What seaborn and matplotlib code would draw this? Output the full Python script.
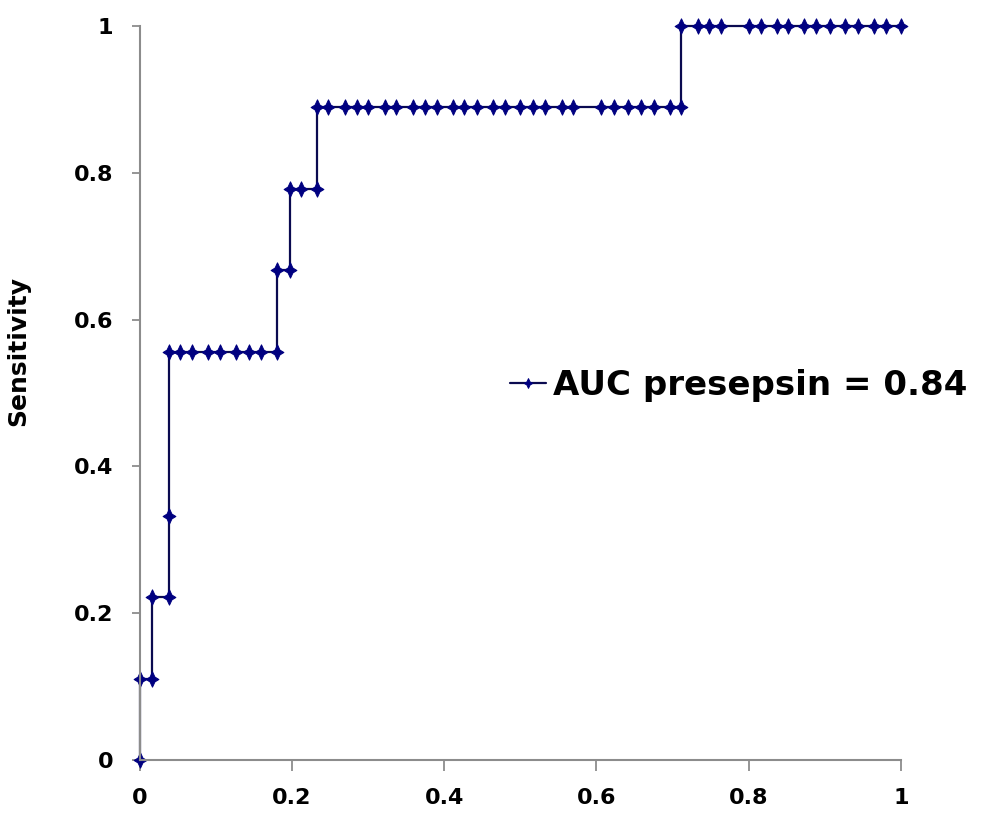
import matplotlib
matplotlib.use("Agg")
import matplotlib.pyplot as plt
import seaborn as sns
import pandas as pd
from matplotlib.path import Path

# ROC points (1 - specificity, sensitivity), in drawing order
fpr = [0.0, 0.0, 0.0167, 0.0167, 0.0385, 0.0385, 0.0385,
       0.0538, 0.069, 0.0906, 0.1063, 0.1273, 0.1435, 0.1597, 0.1807,
       0.1807, 0.1976, 0.1976, 0.2125, 0.2335,
       0.2335, 0.248, 0.2699, 0.2852, 0.3005, 0.3224, 0.3369, 0.3587, 0.3749,
       0.3901, 0.4111, 0.4265, 0.4427, 0.4637, 0.4799, 0.4996, 0.5161, 0.5324,
       0.5542, 0.5699, 0.6055, 0.6225, 0.641, 0.6585, 0.675, 0.696, 0.7115,
       0.7115, 0.734, 0.7485, 0.7635, 0.8005, 0.8165, 0.8375, 0.852, 0.8725,
       0.889, 0.9065, 0.9265, 0.943, 0.964, 0.98, 1.0]
tpr = [0.0, 0.111, 0.111, 0.222, 0.222, 0.333, 0.556,
       0.556, 0.556, 0.556, 0.556, 0.556, 0.556, 0.556, 0.556,
       0.667, 0.667, 0.778, 0.778, 0.778,
       0.889, 0.889, 0.889, 0.889, 0.889, 0.889, 0.889, 0.889, 0.889,
       0.889, 0.889, 0.889, 0.889, 0.889, 0.889, 0.889, 0.889, 0.889,
       0.889, 0.889, 0.889, 0.889, 0.889, 0.889, 0.889, 0.889, 0.889,
       1.0, 1.0, 1.0, 1.0, 1.0, 1.0, 1.0, 1.0, 1.0,
       1.0, 1.0, 1.0, 1.0, 1.0, 1.0, 1.0]
series_label = "AUC presepsin = 0.84"
x_ticks = [0, 0.2, 0.4, 0.6, 0.8, 1]
x_tick_labels = ["0", "0.2", "0.4", "0.6", "0.8", "1"]
y_ticks = [0, 0.2, 0.4, 0.6, 0.8, 1]
y_tick_labels = ["0", "0.2", "0.4", "0.6", "0.8", "1"]
y_label = "Sensitivity"

df = pd.DataFrame({"fpr": fpr, "tpr": tpr, "series": series_label})

sns.set_theme(style="white")
plt.rcParams["font.family"] = ["DejaVu Sans"]

fig = plt.figure(figsize=(10.08, 8.19), dpi=100)
ax = fig.add_axes([139.5 / 1008, 59 / 819, 761.5 / 1008, 734 / 819])

# four-pointed diamond marker with slightly concave sides
sparkle = Path([(0, 1.2), (0.38, 0.38), (1, 0), (0.38, -0.38), (0, -1.2),
                (-0.38, -0.38), (-1, 0), (-0.38, 0.38), (0, 1.2)],
               [Path.MOVETO] + [Path.LINETO] * 7 + [Path.CLOSEPOLY])

sns.lineplot(data=df, x="fpr", y="tpr", hue="series", sort=False,
             estimator=None, palette=["#0a0a50"], marker=sparkle,
             markersize=11, markerfacecolor="#000080",
             markeredgecolor="#000080", linewidth=1.6, ax=ax, clip_on=False)

ax.set_xlim(0, 1)
ax.set_ylim(0, 1)
ax.set_xticks(x_ticks)
ax.set_xticklabels(x_tick_labels)
ax.set_yticks(y_ticks)
ax.set_yticklabels(y_tick_labels)
for lab in ax.get_xticklabels() + ax.get_yticklabels():
    lab.set_fontweight("bold")
    lab.set_fontsize(16)
    lab.set_color("black")

for s in ["top", "right"]:
    ax.spines[s].set_visible(False)
for s in ["left", "bottom"]:
    ax.spines[s].set_color("#8c8c8c")
    ax.spines[s].set_linewidth(1.5)
ax.tick_params(axis="x", direction="out", length=8, width=1.3,
               color="#8c8c8c", pad=12, bottom=True)
ax.tick_params(axis="y", direction="out", length=6, width=1.3,
               color="#8c8c8c", pad=13, left=True)

ax.set_xlabel("")
ax.set_ylabel(y_label, fontsize=18, fontweight="bold", color="black")
ax.yaxis.set_label_coords(-0.143, (760 - 351) / 734)

handles, labels = ax.get_legend_handles_labels()
for h in handles:
    h.set_markersize(7)
leg = ax.legend(handles, labels, loc="center left", frameon=False,
                bbox_to_anchor=(510 / 1008, 1 - 385 / 819),
                bbox_transform=fig.transFigure, handlelength=1.05,
                handletextpad=0.2, borderaxespad=0, borderpad=0,
                prop={"weight": "bold", "size": 24.5})
for t in leg.get_texts():
    t.set_color("black")

fig.savefig("out.png", dpi=100, facecolor="white")
